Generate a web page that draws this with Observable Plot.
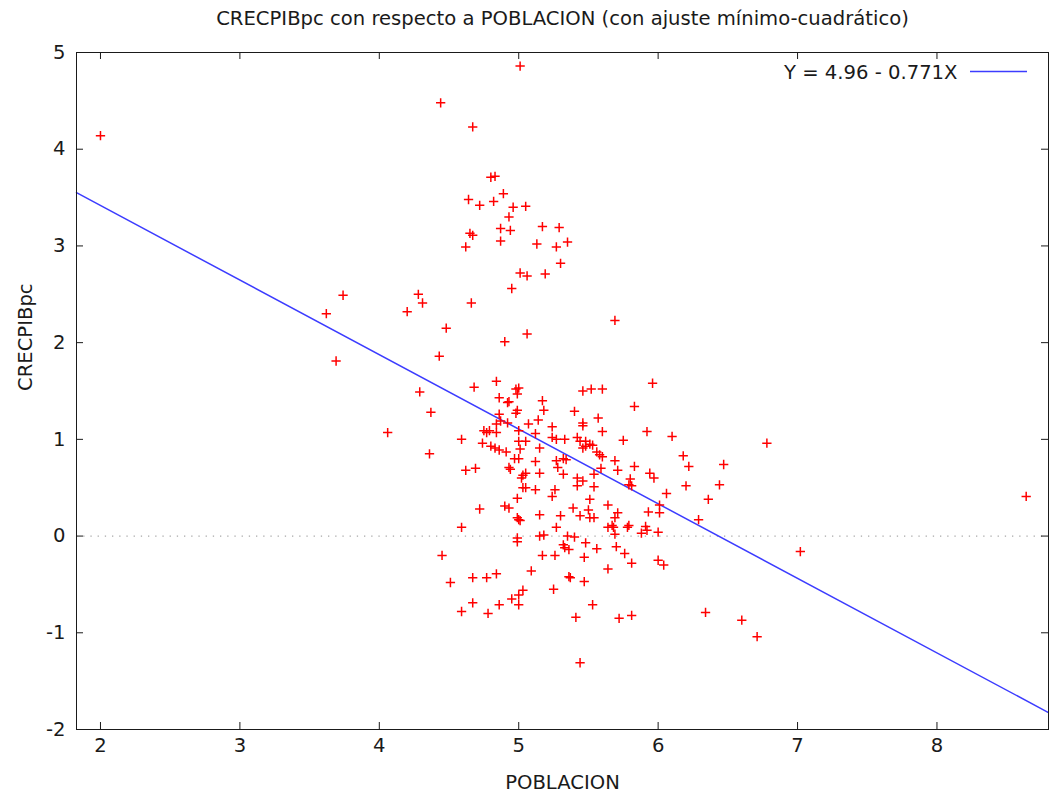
<!DOCTYPE html>
<html><head><meta charset="utf-8">
<script src="https://cdn.jsdelivr.net/npm/d3@7"></script>
<script src="https://cdn.jsdelivr.net/npm/@observablehq/plot@0.6"></script>
<style>body{margin:0;background:#fff} svg{display:block}</style>
</head><body><div id="chart"></div>
<script>
const title = "CRECPIBpc con respecto a POBLACION (con ajuste mínimo-cuadrático)";
const xLabel = "POBLACION";
const yLabel = "CRECPIBpc";
const fitLabel = "Y = 4.96 - 0.771X";
const fitIntercept = 4.96;
const fitSlope = -0.771;
const xTicks = [2, 3, 4, 5, 6, 7, 8];
const yTicks = [-2, -1, 0, 1, 2, 3, 4, 5];
const xDomain = [1.828, 8.8];
const yDomain = [-2, 5];

const poblacion = [
  2.00, 5.01, 4.44, 4.67, 4.80, 4.83, 4.64, 4.72, 4.82, 4.89,
  4.96, 5.05, 4.93, 4.87, 4.94, 5.17, 5.29, 4.65, 4.67, 4.87,
  4.62, 5.13, 5.27, 5.35, 5.30, 5.01, 5.06, 5.19, 4.95, 4.28,
  4.31, 4.20, 4.66, 4.48, 4.90, 5.06, 4.43, 4.68, 4.84, 4.98,
  5.00, 4.99, 4.29, 3.74, 3.62, 3.69, 4.06, 4.37, 4.86, 4.92,
  4.93, 4.99, 4.98, 5.17, 5.18, 4.86, 4.84, 4.87, 5.07, 5.14,
  5.24, 4.59, 4.75, 4.77, 4.79, 4.84, 4.92, 5.00, 5.12, 5.00,
  5.05, 5.24, 5.27, 5.33, 4.74, 4.80, 4.83, 4.86, 4.91, 5.01,
  5.15, 4.36, 4.97, 5.00, 5.12, 5.27, 5.32, 5.34, 4.93, 4.94,
  4.62, 4.69, 5.05, 5.15, 5.28, 5.32, 5.02, 5.03, 5.03, 5.05,
  5.12, 5.26, 5.24, 4.99, 4.72, 4.90, 4.93, 4.99, 5.00, 5.01,
  5.15, 5.30, 4.59, 5.27, 4.99, 4.99, 5.15, 5.18,
  5.96, 5.46, 5.52, 5.60, 5.83, 5.40, 5.57, 5.46, 5.46, 5.60,
  5.92, 6.10, 5.75, 5.42, 5.44, 5.48, 5.51, 5.53, 5.46, 5.48,
  5.56, 5.58, 5.60, 6.18, 5.69, 6.22, 6.47, 5.83, 5.59, 5.71,
  5.42, 5.46, 5.54, 5.94, 5.97, 5.80, 5.79, 5.81, 6.44, 6.20,
  5.54, 5.42, 6.06, 5.51, 6.36, 5.64, 6.01, 6.01, 5.39, 5.50,
  5.54, 5.51, 5.44, 5.71, 5.69, 5.93, 6.29, 5.67, 5.68, 5.64,
  5.79, 5.78, 5.91, 5.92, 5.88, 6.00, 5.69, 5.35, 5.40,
  5.32, 5.33, 5.36, 4.45, 5.17, 5.26, 5.09, 4.84, 4.67, 4.77,
  4.51, 5.36, 5.25, 5.03, 5.00, 4.95, 5.00, 4.86, 4.67, 4.59,
  4.78,
  5.48, 5.56, 5.70, 5.47, 5.76, 5.81, 6.00, 6.04, 5.64, 5.37,
  5.47, 5.53, 5.41, 5.72, 5.81, 6.34, 6.60, 6.71, 5.44,
  6.78, 8.64, 7.02, 5.69
];
const crecpibpc = [
  4.14, 4.86, 4.48, 4.23, 3.71, 3.72, 3.48, 3.42, 3.46, 3.54,
  3.40, 3.41, 3.30, 3.18, 3.16, 3.20, 3.19, 3.13, 3.11, 3.05,
  2.99, 3.02, 2.99, 3.04, 2.82, 2.72, 2.69, 2.71, 2.56, 2.50,
  2.41, 2.32, 2.41, 2.15, 2.01, 2.09, 1.86, 1.54, 1.60, 1.52,
  1.53, 1.47, 1.49, 2.49, 2.30, 1.81, 1.07, 1.28, 1.43, 1.38,
  1.39, 1.30, 1.27, 1.40, 1.30, 1.26, 1.16, 1.19, 1.16, 1.20,
  1.13, 1.00, 1.09, 1.07, 1.09, 1.07, 1.17, 1.09, 1.06, 0.98,
  0.98, 1.02, 1.00, 1.00, 0.96, 0.93, 0.91, 0.89, 0.87, 0.90,
  0.91, 0.85, 0.80, 0.80, 0.77, 0.78, 0.80, 0.79, 0.71, 0.69,
  0.68, 0.70, 0.65, 0.65, 0.71, 0.64, 0.60, 0.63, 0.50, 0.50,
  0.48, 0.48, 0.41, 0.39, 0.28, 0.31, 0.29, 0.19, 0.17, 0.16,
  0.22, 0.21, 0.09, 0.09, -0.02, -0.06, 0.00, 0.01,
  1.58, 1.50, 1.52, 1.52, 1.34, 1.29, 1.22, 1.17, 1.14, 1.08,
  1.08, 1.03, 0.99, 1.02, 0.98, 0.98, 0.95, 0.94, 0.91, 0.93,
  0.87, 0.84, 0.82, 0.83, 0.78, 0.72, 0.74, 0.72, 0.70, 0.68,
  0.60, 0.57, 0.64, 0.65, 0.60, 0.59, 0.53, 0.52, 0.53, 0.52,
  0.51, 0.52, 0.44, 0.38, 0.38, 0.32, 0.32, 0.24, 0.29, 0.27,
  0.19, 0.19, 0.21, 0.24, 0.19, 0.25, 0.17, 0.11, 0.09, 0.09,
  0.11, 0.09, 0.10, 0.06, 0.03, 0.04, 0.02, 0.00, -0.01,
  -0.09, -0.12, -0.14, -0.20, -0.20, -0.20, -0.36, -0.39, -0.43, -0.43,
  -0.48, -0.42, -0.55, -0.56, -0.61, -0.65, -0.71, -0.71, -0.69, -0.78,
  -0.80,
  -0.07, -0.13, -0.11, -0.22, -0.18, -0.28, -0.25, -0.30, -0.34, -0.43,
  -0.47, -0.71, -0.84, -0.85, -0.82, -0.79, -0.87, -1.04, -1.31,
  0.96, 0.41, -0.16, 2.23
];

const points = poblacion.map((x, i) => ({x, y: crecpibpc[i]}));
const fit = xDomain.map(x => ({x, y: fitIntercept + fitSlope * x}));

const W = 1049, H = 798;
const mT = 52, mB = 69, mL = 76, mR = 1;
const frameW = W - mL - mR, frameH = H - mT - mB;
const ink = "#1a1a1a";
const fitColor = "#3c3cff";
const fs = 19.6;

const chart = Plot.plot({
  width: W, height: H,
  marginTop: mT, marginBottom: mB, marginLeft: mL, marginRight: mR,
  x: {domain: xDomain},
  y: {domain: yDomain},
  style: {fontFamily: "DejaVu Sans, Verdana, sans-serif", fontSize: fs + "px", color: ink, background: "#fff"},
  marks: [
    Plot.ruleY([0], {stroke: "#a8a8a8", strokeWidth: 1.2, strokeDasharray: "1.3,5.9"}),
    Plot.line(fit, {x: "x", y: "y", stroke: fitColor, strokeWidth: 1.5}),
    Plot.dot(points, {x: "x", y: "y", symbol: "plus", r: 3.1, stroke: "#ff0000", strokeWidth: 1.5}),
    Plot.frame({stroke: ink, strokeWidth: 1}),
    Plot.tickX(xTicks, {x: d => d, insetTop: frameH - 7, stroke: ink}),
    Plot.tickX(xTicks, {x: d => d, insetBottom: frameH - 7, stroke: ink}),
    Plot.tickY(yTicks, {y: d => d, insetRight: frameW - 7, stroke: ink}),
    Plot.tickY(yTicks, {y: d => d, insetLeft: frameW - 7, stroke: ink}),
    Plot.axisX(xTicks, {tickSize: 0, tickPadding: 9, label: null, fontSize: fs, tickFormat: d => String(d)}),
    Plot.axisY(yTicks, {tickSize: 0, tickPadding: 11, label: null, fontSize: fs, tickFormat: d => String(d)}),
    Plot.text([title], {frameAnchor: "top", lineAnchor: "middle", dy: -34, fontSize: fs, fill: ink}),
    Plot.text([xLabel], {frameAnchor: "bottom", lineAnchor: "middle", dy: 53, fontSize: fs, fill: ink}),
    Plot.text([yLabel], {frameAnchor: "left", lineAnchor: "middle", dx: -51, rotate: -90, fontSize: fs, fill: ink}),
    Plot.text([fitLabel], {frameAnchor: "top-right", lineAnchor: "middle", dx: -91, dy: 20, textAnchor: "end", fontSize: fs, fill: ink})
  ]
});

// legend swatch for the fitted line, placed right of its label
d3.select(chart).append("line")
  .attr("x1", W - mR - 78).attr("x2", W - mR - 21)
  .attr("y1", mT + 19.5).attr("y2", mT + 19.5)
  .attr("stroke", fitColor).attr("stroke-width", 1.5);

document.getElementById("chart").appendChild(chart);
</script>
</body></html>
